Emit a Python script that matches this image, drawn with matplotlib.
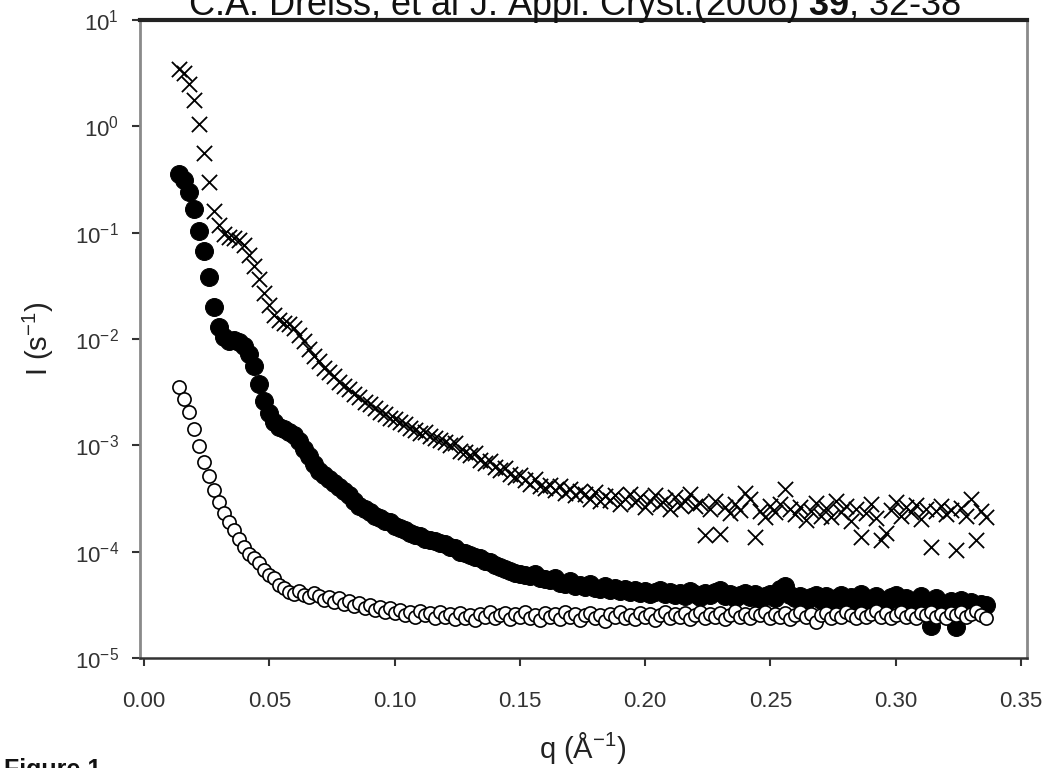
import numpy as np
import matplotlib
matplotlib.use('Agg')
import matplotlib.pyplot as plt
from matplotlib.ticker import FixedLocator, FuncFormatter, NullLocator

plt.rcParams['font.family'] = ['Liberation Sans', 'DejaVu Sans']
plt.rcParams['mathtext.fontset'] = 'custom'
plt.rcParams['mathtext.rm'] = 'Liberation Sans'
plt.rcParams['mathtext.it'] = 'Liberation Sans:italic'
plt.rcParams['mathtext.bf'] = 'Liberation Sans:bold'

# ---------------- data ----------------
q = [0.014, 0.016, 0.018, 0.020, 0.022, 0.024, 0.026, 0.028, 0.030, 0.032,
     0.034, 0.036, 0.038, 0.040, 0.042, 0.044, 0.046, 0.048, 0.050, 0.052,
     0.054, 0.056, 0.058, 0.060, 0.062, 0.064, 0.066, 0.068, 0.070, 0.072,
     0.074, 0.076, 0.078, 0.080, 0.082, 0.084, 0.086, 0.088, 0.090, 0.092,
     0.094, 0.096, 0.098, 0.100, 0.102, 0.104, 0.106, 0.108, 0.110, 0.112,
     0.114, 0.116, 0.118, 0.120, 0.122, 0.124, 0.126, 0.128, 0.130, 0.132,
     0.134, 0.136, 0.138, 0.140, 0.142, 0.144, 0.146, 0.148, 0.150, 0.152,
     0.154, 0.156, 0.158, 0.160, 0.162, 0.164, 0.166, 0.168, 0.170, 0.172,
     0.174, 0.176, 0.178, 0.180, 0.182, 0.184, 0.186, 0.188, 0.190, 0.192,
     0.194, 0.196, 0.198, 0.200, 0.202, 0.204, 0.206, 0.208, 0.210, 0.212,
     0.214, 0.216, 0.218, 0.220, 0.222, 0.224, 0.226, 0.228, 0.230, 0.232,
     0.234, 0.236, 0.238, 0.240, 0.242, 0.244, 0.246, 0.248, 0.250, 0.252,
     0.254, 0.256, 0.258, 0.260, 0.262, 0.264, 0.266, 0.268, 0.270, 0.272,
     0.274, 0.276, 0.278, 0.280, 0.282, 0.284, 0.286, 0.288, 0.290, 0.292,
     0.294, 0.296, 0.298, 0.300, 0.302, 0.304, 0.306, 0.308, 0.310, 0.312,
     0.314, 0.316, 0.318, 0.320, 0.322, 0.324, 0.326, 0.328, 0.330, 0.332,
     0.334, 0.336]

# log10 of intensity, crosses (top curve)
log_I_cross = [
    0.54, 0.50, 0.40, 0.25, 0.02, -0.25, -0.52, -0.80, -0.93, -1.01,
    -1.04, -1.05, -1.07, -1.12, -1.21, -1.31, -1.44, -1.57, -1.68, -1.77,
    -1.82, -1.85, -1.86, -1.90, -1.96, -2.02, -2.09, -2.16, -2.21, -2.27,
    -2.31, -2.35, -2.40, -2.44, -2.47, -2.52, -2.55, -2.59, -2.61, -2.65,
    -2.69, -2.71, -2.74, -2.75, -2.78, -2.80, -2.84, -2.86, -2.88, -2.87,
    -2.91, -2.93, -2.95, -2.97, -3.00, -2.98, -3.05, -3.06, -3.09, -3.07,
    -3.14, -3.17, -3.15, -3.20, -3.23, -3.21, -3.27, -3.30, -3.28, -3.33,
    -3.36, -3.32, -3.38, -3.40, -3.37, -3.42, -3.38, -3.45, -3.41, -3.47,
    -3.43, -3.46, -3.50, -3.44, -3.52, -3.48, -3.51, -3.47, -3.55, -3.50,
    -3.46, -3.53, -3.49, -3.58, -3.52, -3.47, -3.55, -3.51, -3.60, -3.49,
    -3.56, -3.52, -3.46, -3.57, -3.54, -3.84, -3.60, -3.52, -3.83, -3.58,
    -3.64, -3.55, -3.61, -3.45, -3.50, -3.86, -3.62, -3.67, -3.57, -3.63,
    -3.55, -3.41, -3.60, -3.65, -3.58, -3.70, -3.62, -3.54, -3.66, -3.59,
    -3.67, -3.52, -3.63, -3.57, -3.71, -3.60, -3.86, -3.64, -3.55, -3.68,
    -3.89, -3.82, -3.61, -3.53, -3.66, -3.58, -3.63, -3.56, -3.69, -3.60,
    -3.96, -3.62, -3.57, -3.65, -3.61, -3.98, -3.59, -3.66, -3.50, -3.89,
    -3.62, -3.67]

# log10 of intensity, filled circles (middle curve)
log_I_filled = [
    -0.45, -0.50, -0.62, -0.78, -0.98, -1.17, -1.42, -1.70, -1.89, -1.98,
    -2.02, -2.01, -2.03, -2.07, -2.14, -2.25, -2.42, -2.58, -2.70, -2.78,
    -2.83, -2.85, -2.87, -2.90, -2.96, -3.03, -3.10, -3.18, -3.24, -3.28,
    -3.32, -3.35, -3.39, -3.43, -3.47, -3.52, -3.57, -3.60, -3.63, -3.66,
    -3.68, -3.71, -3.72, -3.76, -3.78, -3.80, -3.82, -3.84, -3.85, -3.88,
    -3.89, -3.90, -3.92, -3.93, -3.96, -3.97, -4.00, -4.01, -4.03, -4.05,
    -4.06, -4.09, -4.10, -4.13, -4.14, -4.16, -4.18, -4.20, -4.21, -4.22,
    -4.23, -4.21, -4.25, -4.26, -4.27, -4.25, -4.29, -4.30, -4.28, -4.32,
    -4.31, -4.33, -4.30, -4.34, -4.35, -4.32, -4.36, -4.34, -4.37, -4.35,
    -4.38, -4.36, -4.39, -4.37, -4.40, -4.38, -4.36, -4.40, -4.38, -4.41,
    -4.39, -4.42, -4.37, -4.40, -4.43, -4.39, -4.41, -4.38, -4.36, -4.42,
    -4.40, -4.44, -4.41, -4.39, -4.43, -4.40, -4.45, -4.42, -4.40, -4.44,
    -4.35, -4.32, -4.41, -4.44, -4.42, -4.46, -4.43, -4.41, -4.45, -4.42,
    -4.47, -4.44, -4.41, -4.46, -4.43, -4.45, -4.40, -4.44, -4.47, -4.42,
    -4.45, -4.48, -4.43, -4.41, -4.46, -4.44, -4.49, -4.45, -4.42, -4.47,
    -4.70, -4.44, -4.48, -4.56, -4.46, -4.71, -4.45, -4.50, -4.47, -4.52,
    -4.49, -4.50]

# log10 of intensity, open circles (bottom curve)
log_I_open = [
    -2.45, -2.56, -2.69, -2.85, -3.01, -3.16, -3.29, -3.42, -3.53, -3.64,
    -3.72, -3.80, -3.88, -3.96, -4.02, -4.06, -4.11, -4.17, -4.22, -4.25,
    -4.31, -4.34, -4.38, -4.40, -4.37, -4.41, -4.43, -4.39, -4.42, -4.45,
    -4.43, -4.47, -4.44, -4.49, -4.46, -4.51, -4.48, -4.53, -4.50, -4.55,
    -4.52, -4.57, -4.53, -4.58, -4.55, -4.60, -4.57, -4.61, -4.56, -4.60,
    -4.58, -4.62, -4.57, -4.61, -4.59, -4.63, -4.58, -4.62, -4.60, -4.64,
    -4.59, -4.61, -4.57, -4.62, -4.60, -4.58, -4.63, -4.59, -4.61, -4.57,
    -4.62, -4.60, -4.64, -4.58, -4.61, -4.59, -4.63, -4.57, -4.61, -4.59,
    -4.64, -4.60, -4.58, -4.62, -4.60, -4.65, -4.59, -4.61, -4.57, -4.62,
    -4.60, -4.63, -4.58, -4.61, -4.59, -4.64, -4.60, -4.57, -4.62, -4.59,
    -4.61, -4.58, -4.63, -4.60, -4.57, -4.62, -4.59, -4.61, -4.58, -4.63,
    -4.60, -4.56, -4.61, -4.59, -4.62, -4.58, -4.60, -4.57, -4.62, -4.59,
    -4.61, -4.58, -4.63, -4.60, -4.57, -4.61, -4.59, -4.66, -4.60, -4.58,
    -4.62, -4.59, -4.61, -4.57, -4.60, -4.62, -4.58, -4.61, -4.59, -4.56,
    -4.61, -4.58, -4.62, -4.60, -4.57, -4.61, -4.59, -4.62, -4.58, -4.60,
    -4.57, -4.61, -4.59, -4.62, -4.58, -4.60, -4.57, -4.61, -4.59, -4.56,
    -4.60, -4.62]

x_ticks = [0.00, 0.05, 0.10, 0.15, 0.20, 0.25, 0.30, 0.35]
x_tick_labels = ['0.00', '0.05', '0.10', '0.15', '0.20', '0.25', '0.30', '0.35']
y_exponents = [-5, -4, -3, -2, -1, 0, 1]

title_text = r"C.A. Dreiss, et al J. Appl. Cryst.(2006) $\mathbf{39}$, 32-38"
x_label = r"q ($\mathregular{\AA^{-1}}$)"
y_label = r"I ($\mathregular{s^{-1}}$)"

assert len(q) == len(log_I_cross) == len(log_I_filled) == len(log_I_open), \
    (len(q), len(log_I_cross), len(log_I_filled), len(log_I_open))

q_arr = np.array(q)
I_cross = 10 ** np.array(log_I_cross)
I_filled = 10 ** np.array(log_I_filled)
I_open = 10 ** np.array(log_I_open)

# ---------------- figure ----------------
W, H = 1059, 768
fig = plt.figure(figsize=(W / 100, H / 100), dpi=100)
ax = fig.add_axes([140 / W, 1 - 658 / H, (1027 - 140) / W, (658 - 20) / H])

ax.set_yscale('log')
ax.set_xlim(-0.0016, 0.3524)
ax.set_ylim(1e-5, 1e1)

ax.scatter(q_arr, I_cross, marker='x', s=120, c='black', linewidths=1.3, zorder=3)
ax.scatter(q_arr, I_filled, marker='o', s=165, c='black', edgecolors='black',
           linewidths=0.8, zorder=2)
ax.scatter(q_arr, I_open, marker='o', s=90, facecolors='white', edgecolors='black',
           linewidths=1.2, zorder=2.5)

# ticks
ax.xaxis.set_major_locator(FixedLocator(x_ticks))
ax.set_xticklabels(x_tick_labels)
ax.yaxis.set_major_locator(FixedLocator([10.0 ** e for e in y_exponents]))
ax.yaxis.set_major_formatter(FuncFormatter(
    lambda v, p: r"$\mathregular{10^{%d}}$" % int(round(np.log10(v)))))
ax.yaxis.set_minor_locator(NullLocator())
ax.xaxis.set_minor_locator(NullLocator())

ax.tick_params(axis='x', direction='out', length=6, width=1.5, colors='#333333',
               labelsize=16, pad=18)
ax.tick_params(axis='y', direction='out', length=6, width=1.5, colors='#333333',
               labelsize=16, pad=9)

for side in ('left', 'right'):
    ax.spines[side].set_color('#8a8a8a')
    ax.spines[side].set_linewidth(2.0)
ax.spines['top'].set_color('#222222')
ax.spines['top'].set_linewidth(3.0)
ax.spines['bottom'].set_color('#333333')
ax.spines['bottom'].set_linewidth(1.8)

# labels
fig.text(583 / W, 1 - 748 / H, x_label, ha='center', va='center',
         fontsize=21, color='#222222')
fig.text(38 / W, 1 - 339 / H, y_label, ha='center', va='center',
         rotation=90, fontsize=21, color='#222222')

# title (cut off at the top of the image, as in the reference)
fig.text(575 / W, 1 - 15 / H, title_text, ha='center', va='baseline',
         fontsize=26, color='#111111')

# figure caption fragment at bottom-left (cut off, as in the reference)
fig.text(4 / W, 1 - 758 / H, "Figure 1.", ha='left', va='top',
         fontsize=18, fontweight='bold', color='#111111')

fig.savefig('out.png', dpi=100)
